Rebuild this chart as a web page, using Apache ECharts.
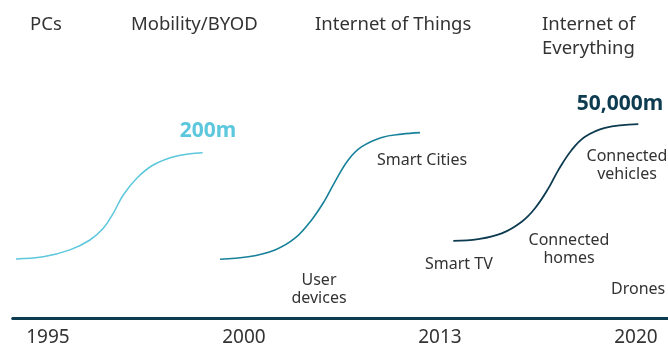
<!DOCTYPE html>
<html>
<head>
<meta charset="utf-8">
<script src="https://cdn.jsdelivr.net/npm/echarts@6/dist/echarts.min.js"></script>
<style>
  html, body { margin: 0; padding: 0; background: #fff; }
  #chart { width: 668px; height: 349px; }
</style>
</head>
<body>
<div id="chart"></div>
<script>
// era positions on x axis (evenly spaced, not to scale)
const tickValues = [0, 1, 2, 3]
const tickLabels = ['1995', '2000', '2013', '2020']

// S-curves, [x, y]
const pcCurve = [[-0.163, 19.7], [-0.024, 20.4], [0.112, 22.7], [0.214, 26], [0.282, 29.9], [0.333, 34.9],
  [0.384, 41], [0.453, 46.6], [0.537, 51], [0.657, 54], [0.789, 55.1]]
const mobileCurve = [[0.878, 19.6], [1.022, 20.4], [1.158, 22.7], [1.26, 26.6], [1.345, 32.7], [1.413, 39.3],
  [1.464, 45.4], [1.532, 52.7], [1.601, 57.1], [1.703, 60.2], [1.805, 61.3], [1.898, 61.8]]
const iotCurve = [[2.068, 25.7], [2.195, 26.3], [2.315, 28.2], [2.417, 32.1], [2.485, 36.6], [2.553, 43.2],
  [2.604, 49.3], [2.672, 56], [2.74, 60.4], [2.842, 63.4], [3.012, 64.6]]

const eras = ['PCs', 'Mobility/BYOD', 'Internet of Things', 'Internet of\nEverything']
const totals = ['200m', '50,000m']

const FONT = '"Noto Sans", sans-serif'
const chart = echarts.init(document.getElementById('chart'))

function txt(x, y, text, opts) {
  return {
    type: 'text', x: x, y: y,
    style: Object.assign({
      text: text, fill: '#333', font: '16px ' + FONT,
      textAlign: 'left', textVerticalAlign: 'middle', lineHeight: 18
    }, opts || {})
  }
}

const curveBase = { type: 'line', smooth: 0.4, symbol: 'none' }

const option = {
  animation: false,
  grid: { left: 12.7, right: 0, top: 18, bottom: 31 },
  xAxis: {
    type: 'value',
    min: -0.18,
    max: 3.1634,
    splitLine: { show: false },
    axisTick: { show: false },
    axisLine: { show: true, lineStyle: { color: '#0d3b50', width: 3 } },
    axisLabel: {
      customValues: tickValues,
      formatter: v => tickLabels[tickValues.indexOf(v)],
      color: '#333', fontSize: 19, fontFamily: FONT, margin: 10
    }
  },
  yAxis: { type: 'value', min: 0, max: 100, show: false },
  series: [
    Object.assign({ data: pcCurve, lineStyle: { color: '#5cc7dd', width: 1.5 } }, curveBase),
    Object.assign({ data: mobileCurve, lineStyle: { color: '#17819a', width: 1.6 } }, curveBase),
    Object.assign({ data: iotCurve, lineStyle: { color: '#0d3b50', width: 1.8 } }, curveBase)
  ],
  graphic: [
    txt(30, 25, eras[0], { font: '18.5px ' + FONT }),
    txt(131, 25, eras[1], { font: '18.5px ' + FONT }),
    txt(315, 25, eras[2], { font: '18.5px ' + FONT }),
    txt(542, 37, eras[3], { font: '18.5px ' + FONT, lineHeight: 24 }),
    txt(208, 131, totals[0], { font: 'bold 21px ' + FONT, fill: '#5cc7dd', textAlign: 'center' }),
    txt(620, 104, totals[1], { font: 'bold 21px ' + FONT, fill: '#0d3b50', textAlign: 'center' }),
    txt(377, 160, 'Smart Cities'),
    txt(627, 165, 'Connected\nvehicles', { textAlign: 'center' }),
    txt(569, 249, 'Connected\nhomes', { textAlign: 'center' }),
    txt(425, 264, 'Smart TV'),
    txt(319, 289, 'User\ndevices', { textAlign: 'center' }),
    txt(611, 289, 'Drones')
  ]
}

chart.setOption(option)
</script>
</body>
</html>
